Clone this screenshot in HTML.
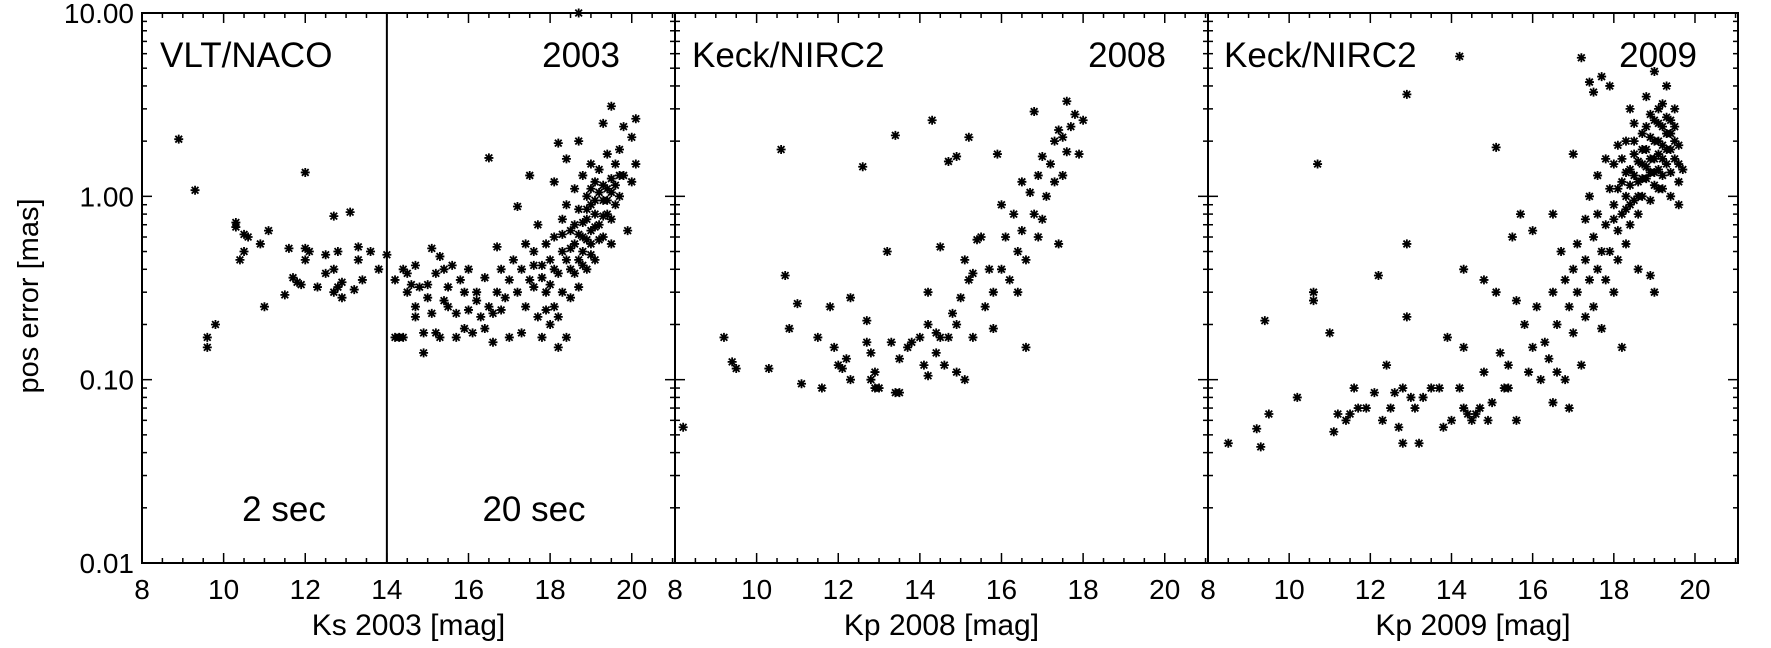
<!DOCTYPE html>
<html><head><meta charset="utf-8">
<style>
html,body{margin:0;padding:0;background:#fff;}
svg{display:block;font-family:"Liberation Sans",Arial,sans-serif;}
</style></head>
<body>
<svg id="chart" width="1771" height="648" viewBox="0 0 1771 648" xmlns="http://www.w3.org/2000/svg">
<text x="0" y="0" transform="translate(38,296) rotate(-90)" text-anchor="middle" font-size="29">pos error [mas]</text>
</svg>
<script>
// ---- data (magnitude, positional error in mas) ----
const pts2003 = [[8.9,2.05],[9.3,1.08],[9.6,0.17],[9.6,0.15],[9.8,0.2],[10.3,0.72],[10.3,0.68],[10.4,0.45],[10.5,0.62],[10.5,0.5],[10.6,0.6],[10.9,0.55],[11.0,0.25],[11.1,0.65],[11.5,0.29],[11.6,0.52],[11.7,0.36],[11.8,0.34],[11.9,0.33],[12.0,1.35],[12.0,0.45],[12.0,0.52],[12.1,0.5],[12.3,0.32],[12.5,0.38],[12.5,0.48],[12.7,0.4],[12.7,0.78],[12.7,0.3],[12.8,0.5],[12.8,0.32],[12.9,0.28],[12.9,0.34],[13.1,0.82],[13.2,0.31],[13.3,0.45],[13.3,0.53],[13.4,0.35],[13.6,0.5],[13.8,0.4],[14.0,0.48],
[14.2,0.35],[14.2,0.17],[14.3,0.17],[14.4,0.17],[14.4,0.4],[14.5,0.3],[14.5,0.38],[14.6,0.33],[14.7,0.22],[14.7,0.25],[14.7,0.42],[14.8,0.32],[14.9,0.14],[14.9,0.18],[15.0,0.28],[15.0,0.33],[15.1,0.52],[15.1,0.23],[15.2,0.18],[15.2,0.38],[15.3,0.47],[15.3,0.17],[15.4,0.4],[15.4,0.27],[15.5,0.25],[15.5,0.32],[15.6,0.42],[15.7,0.23],[15.7,0.17],[15.8,0.35],[15.9,0.3],[15.9,0.19],[16.0,0.24],[16.0,0.4],[16.1,0.18],[16.2,0.3],[16.2,0.27],[16.3,0.22],[16.4,0.19],[16.4,0.36],[16.5,1.62],[16.5,0.25],[16.6,0.16],[16.6,0.23],[16.7,0.53],[16.7,0.3],[16.8,0.4],[16.8,0.24],[16.9,0.28],[17.0,0.17],[17.0,0.35],[17.1,0.45],[17.2,0.88],[17.2,0.3],[17.3,0.18],[17.3,0.4],[17.4,0.55],[17.4,0.25],[17.5,1.3],[17.5,0.35],[17.6,0.32],[17.6,0.5],[17.7,0.22],[17.7,0.7],[17.8,0.42],[17.8,0.17],[17.9,0.3],[17.9,0.55],[18.0,0.2],[18.0,0.45],[18.1,1.2],[18.1,0.6],[18.1,0.25],[18.2,0.15],[18.2,0.38],[18.2,1.95],[18.3,0.75],[18.3,0.5],[18.3,0.3],[18.4,0.9],[18.4,0.17],[18.4,1.6],[18.5,0.4],[18.5,0.65],[18.5,0.28],[18.6,0.55],[18.6,1.1],[18.6,0.7],[18.7,2.0],[18.7,0.45],[18.7,0.85],[18.7,0.32],[18.7,10.0],[18.8,0.6],[18.8,1.3],[18.8,0.5],[18.9,0.75],[18.9,1.0],[18.9,0.4],[19.0,0.65],[19.0,1.5],[19.0,0.9],[19.0,0.55],[19.1,1.2],[19.1,0.8],[19.1,0.45],[19.2,1.05],[19.2,0.7],[19.2,1.4],[19.3,0.95],[19.3,2.5],[19.3,0.6],[19.4,1.7],[19.4,1.1],[19.4,0.8],[19.5,3.1],[19.5,1.25],[19.5,0.55],[19.6,1.5],[19.6,0.9],[19.7,1.8],[19.7,1.0],[19.8,2.4],[19.8,1.3],[19.9,0.65],[20.0,2.1],[20.0,1.2],[20.1,2.65],[20.1,1.5],
[17.6,0.42],[17.8,0.36],[17.9,0.24],[18.0,0.33],[18.1,0.4],[18.2,0.22],[18.3,0.62],[18.4,0.45],[18.5,0.52],[18.6,0.38],[18.7,0.62],[18.8,0.72],[18.8,0.42],[18.9,0.58],[18.9,0.85],[19.0,0.48],[19.0,1.1],[19.1,0.68],[19.1,0.95],[19.2,0.58],[19.3,0.78],[19.3,1.15],[19.4,0.95],[19.5,1.05],[19.5,0.75],[19.6,1.15],[19.7,1.3]];
const pts2008 = [[8.2,0.055],[9.2,0.17],[9.4,0.125],[9.5,0.115],[10.3,0.115],[10.6,1.8],[10.7,0.37],[10.8,0.19],[11.0,0.26],[11.1,0.095],[11.5,0.17],[11.6,0.09],[11.8,0.25],[11.9,0.15],[12.0,0.12],[12.1,0.115],[12.2,0.13],[12.3,0.28],[12.3,0.1],[12.6,1.45],[12.7,0.16],[12.7,0.21],[12.8,0.14],[12.8,0.1],[12.9,0.09],[12.9,0.11],[13.0,0.09],[13.2,0.5],[13.3,0.16],[13.4,2.15],[13.4,0.085],[13.5,0.13],[13.5,0.085],[13.7,0.15],[13.8,0.16],[14.0,0.17],[14.1,0.12],[14.2,0.2],[14.2,0.3],[14.2,0.105],[14.3,2.6],[14.4,0.18],[14.4,0.14],[14.5,0.53],[14.5,0.17],[14.6,0.12],[14.7,1.55],[14.7,0.17],[14.8,0.23],[14.9,1.65],[14.9,0.2],[14.9,0.11],[15.0,0.28],[15.1,0.1],[15.2,2.1],[15.1,0.45],[15.2,0.35],[15.3,0.38],[15.3,0.17],[15.4,0.58],[15.5,0.6],[15.6,0.25],[15.7,0.4],[15.8,0.3],[15.8,0.19],[15.9,1.7],[16.0,0.9],[16.0,0.4],[16.1,0.6],[16.2,0.35],[16.3,0.8],[16.4,0.5],[16.4,0.3],[16.5,1.2],[16.5,0.65],[16.6,0.45],[16.6,0.15],[16.7,1.05],[16.8,2.9],[16.8,0.8],[16.9,1.3],[16.9,0.6],[17.0,1.65],[17.0,0.75],[17.1,1.0],[17.2,1.5],[17.3,2.0],[17.3,1.2],[17.4,2.3],[17.4,0.55],[17.5,2.1],[17.5,1.3],[17.6,3.3],[17.6,1.75],[17.7,2.4],[17.8,2.8],[17.9,1.7],[18.0,2.6]];
const pts2009 = [[8.5,0.045],[9.2,0.054],[9.3,0.043],[9.4,0.21],[9.5,0.065],[10.2,0.08],[10.6,0.3],[10.7,1.5],[10.6,0.27],[11.0,0.18],[11.1,0.052],[11.2,0.065],[11.4,0.06],[11.5,0.065],[11.6,0.09],[11.7,0.07],[11.9,0.07],[12.1,0.085],[12.2,0.37],[12.3,0.06],[12.4,0.12],[12.5,0.07],[12.6,0.085],[12.7,0.055],[12.8,0.045],[12.8,0.09],[12.9,3.6],[12.9,0.55],[12.9,0.22],[13.0,0.08],[13.1,0.07],[13.2,0.045],[13.3,0.08],[13.5,0.09],[13.7,0.09],[13.8,0.055],[13.9,0.17],[14.0,0.06],[14.2,0.09],[14.2,5.8],[14.3,0.15],[14.3,0.4],[14.3,0.07],[14.4,0.065],[14.5,0.06],[14.6,0.065],[14.7,0.07],[14.8,0.11],[14.8,0.35],[14.9,0.06],[15.0,0.075],[15.1,1.85],[15.1,0.3],[15.2,0.14],[15.3,0.09],[15.4,0.09],[15.4,0.12],[15.5,0.6],[15.6,0.06],[15.6,0.27],[15.7,0.8],[15.8,0.2],[15.9,0.11],[16.0,0.65],[16.0,0.15],[16.1,0.25],[16.2,0.1],[16.3,0.16],[16.4,0.13],[16.5,0.8],[16.5,0.3],[16.5,0.075],[16.6,0.2],[16.6,0.11],[16.7,0.5],[16.8,0.35],[16.8,0.1],[16.9,0.25],[16.9,0.07],[17.0,1.7],[17.0,0.4],[17.0,0.18],[17.1,0.55],[17.1,0.3],[17.2,5.7],[17.2,0.12],[17.3,0.75],[17.3,0.45],[17.3,0.22],[17.4,4.2],[17.4,1.0],[17.4,0.35],[17.5,3.7],[17.5,0.6],[17.5,0.25],[17.6,1.3],[17.6,0.8],[17.6,0.4],[17.7,4.5],[17.7,0.5],[17.7,0.19],[17.8,1.6],[17.8,0.7],[17.8,0.35],[17.9,1.1],[17.9,0.5],[17.9,4.0],[18.0,0.9],[18.0,1.5],[18.0,0.3],[18.1,1.9],[18.1,0.65],[18.1,0.45],[18.2,1.2],[18.2,0.8],[18.2,0.15],[18.3,2.0],[18.3,1.0],[18.3,0.55],[18.4,3.0],[18.4,1.4],[18.4,0.7],[18.5,1.7],[18.5,0.95],[18.5,2.5],[18.6,1.2],[18.6,0.8],[18.6,0.4],[18.7,2.2],[18.7,1.5],[18.7,1.0],[18.8,1.8],[18.8,3.5],[18.8,1.25],[18.9,2.8],[18.9,1.6],[18.9,0.95],[18.9,0.37],[19.0,4.8],[19.0,2.0],[19.0,1.35],[19.0,0.3],[19.1,2.5],[19.1,1.7],[19.1,1.1],[19.2,3.2],[19.2,1.9],[19.2,1.3],[19.3,2.2],[19.3,4.0],[19.3,1.5],[19.4,2.6],[19.4,1.8],[19.4,1.0],[19.5,3.0],[19.5,2.0],[19.6,1.5],[19.6,0.9],
[18.0,0.75],[18.1,1.1],[18.2,1.6],[18.3,0.85],[18.3,1.35],[18.4,1.15],[18.4,0.9],[18.5,1.3],[18.5,2.0],[18.6,1.55],[18.6,1.0],[18.7,1.25],[18.7,1.8],[18.8,1.45],[18.8,2.4],[18.9,1.35],[18.9,2.1],[19.0,1.6],[19.0,1.15],[19.0,2.6],[19.1,1.4],[19.1,2.0],[19.1,3.0],[19.2,1.6],[19.2,2.4],[19.2,1.1],[19.3,1.8],[19.3,2.7],[19.4,1.35],[19.4,2.2],[19.5,1.6],[19.5,2.4],[19.6,1.9],[19.6,1.2],[19.7,1.4]];
const xTickLabels = ["8","10","12","14","16","18","20"];
const yTickLabels = ["10.00","1.00","0.10","0.01"];
const panelTitles = ["Ks 2003 [mag]","Kp 2008 [mag]","Kp 2009 [mag]"];

const NS="http://www.w3.org/2000/svg";
const svg=document.getElementById('chart');
const TOP=13, BOT=563, XMIN=8, XMAX=21.06;
const lefts=[142,675,1208], RIGHT_END=1738;
function el(tag,attrs,parent){const e=document.createElementNS(NS,tag);for(const k in attrs)e.setAttribute(k,attrs[k]);(parent||svg).appendChild(e);return e;}
function yScale(v){return BOT-(Math.log10(v)+2)/3*(BOT-TOP);}
function txt(x,y,s,size,anchor,parent){const t=el('text',{x:x,y:y,'font-size':size,'text-anchor':anchor},parent);t.textContent=s;return t;}

const series=[pts2003,pts2008,pts2009];
for(let p=0;p<3;p++){
  const L=lefts[p], R=(p<2?lefts[p+1]:RIGHT_END);
  const xs=v=>L+(v-XMIN)/(XMAX-XMIN)*(R-L);
  const g=el('g',{});
  
  
  const frame=el('rect',{x:L,y:TOP,width:R-L,height:BOT-TOP,fill:'none',stroke:'#000','stroke-width':2},g);
  
  
  for(let m=8;m<=21;m+=0.5){
    const x=xs(m); const major=(m%2===0); const len=major?10:5;
    el('line',{x1:x,x2:x,y1:BOT,y2:BOT-len,stroke:'#000','stroke-width':1.5},g);
    el('line',{x1:x,x2:x,y1:TOP,y2:TOP+len,stroke:'#000','stroke-width':1.5},g);
  }
  xTickLabels.forEach(s=>{
    const t=txt(xs(+s),599,s,28,'middle',g);
    
    
  });
  for(let d=-2;d<=1;d++){
    for(let k=1;k<=9;k++){
      const v=k*Math.pow(10,d); if(v>10.0001)break;
      const y=yScale(v); const len=k===1?10:5;
      el('line',{x1:L,x2:L+len,y1:y,y2:y,stroke:'#000','stroke-width':1.5},g);
      el('line',{x1:R,x2:R-len,y1:y,y2:y,stroke:'#000','stroke-width':1.5},g);
    }
  }
  const xt=txt((L+R)/2,635,panelTitles[p],30,'middle',g);
  
  
  series[p].forEach(pt=>{
    const cx=xs(pt[0]), cy=yScale(pt[1]), r=4.5;
    const m=el('path',{d:`M${cx-r},${cy}H${cx+r}M${cx},${cy-r}V${cy+r}M${cx-r*0.75},${cy-r*0.75}L${cx+r*0.75},${cy+r*0.75}M${cx-r*0.75},${cy+r*0.75}L${cx+r*0.75},${cy-r*0.75}`,stroke:'#000','stroke-width':1.8,fill:'none'},g);
    
    
  });
}
yTickLabels.forEach(s=>{
  const t=txt(134,yScale(+s)+10,s,28,'end');
  
  
});
const xs0=v=>lefts[0]+(v-XMIN)/(XMAX-XMIN)*(lefts[1]-lefts[0]);
const div=el('line',{x1:xs0(14),x2:xs0(14),y1:TOP,y2:BOT,stroke:'#000','stroke-width':2});


const ann=[["VLT/NACO",160,67,'start','instrument-label-2003'],["2003",620,67,'end','year-label-2003'],["2 sec",284,521,'middle','exposure-label-2s'],["20 sec",534,521,'middle','exposure-label-20s'],["Keck/NIRC2",692,67,'start','instrument-label-2008'],["2008",1166,67,'end','year-label-2008'],["Keck/NIRC2",1224,67,'start','instrument-label-2009'],["2009",1697,67,'end','year-label-2009']];
ann.forEach(a=>{
  const t=txt(a[1],a[2],a[0],35,a[3]);
  
  
});
</script>
</body></html>
